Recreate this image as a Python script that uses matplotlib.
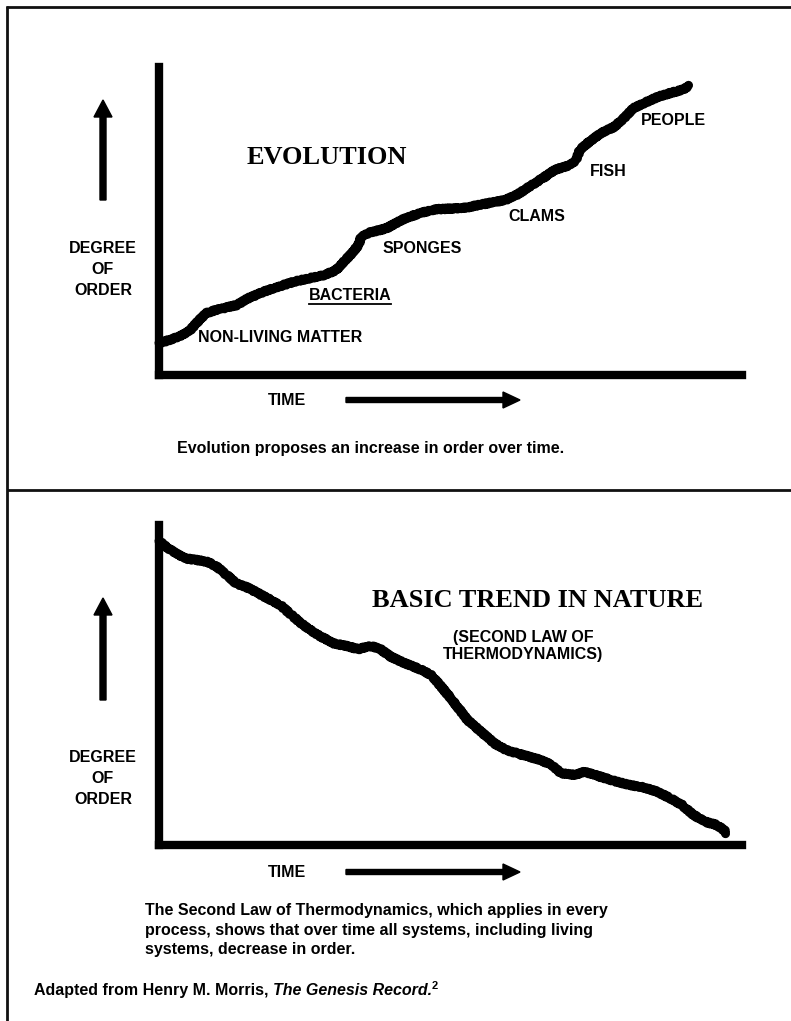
import numpy as np
import matplotlib
matplotlib.use('Agg')
import matplotlib.pyplot as plt

W, H = 791, 1021

# Rising "evolution" curve: time (0-100) vs degree of order (0-100)
evo_time = [0.0, 0.8, 3.4, 5.1, 6.4, 8.0, 9.7, 13.3, 15.3, 17.9, 20.5, 23.2, 25.8,
            28.4, 30.4, 31.7, 33.1, 34.2, 34.7, 36.0, 39.0, 41.6, 44.9, 47.5, 50.8,
            52.8, 55.4, 59.4, 61.3, 64.0, 66.6, 67.9, 70.5, 71.5, 72.2, 73.8, 75.8,
            78.1, 79.7, 81.4, 83.7, 85.7, 88.0, 89.6, 90.9]
evo_order = [10.4, 10.8, 12.4, 14.1, 16.8, 20.0, 21.1, 22.7, 24.9, 27.0, 28.7, 30.3, 31.4,
             32.5, 34.1, 36.8, 39.5, 42.2, 44.9, 46.2, 47.6, 50.3, 52.7, 53.8, 54.1,
             54.4, 55.4, 56.8, 58.4, 61.7, 64.9, 66.6, 68.2, 69.8, 73.1, 75.7, 78.5,
             80.6, 83.3, 86.6, 88.7, 90.4, 91.7, 92.5, 93.8]
stages = ['NON-LIVING MATTER', 'BACTERIA', 'SPONGES', 'CLAMS', 'FISH', 'PEOPLE']

# Falling "second law" curve
decay_time = [0.0, 0.8, 2.4, 4.4, 6.3, 8.3, 9.9, 11.6, 13.2, 15.5, 18.1, 20.8, 22.7,
              24.7, 27.3, 30.0, 32.6, 34.2, 36.2, 37.8, 39.8, 42.4, 45.1, 46.7, 48.4,
              50.3, 51.6, 52.9, 54.9, 57.5, 59.5, 62.5, 65.4, 67.4, 69.0, 71.3, 73.0,
              75.3, 77.9, 80.5, 83.1, 85.4, 87.7, 89.7, 91.7, 93.6, 95.6, 96.9, 97.3]
decay_order = [95.0, 93.8, 91.7, 89.6, 89.1, 88.5, 87.0, 84.4, 81.8, 80.2, 77.6, 75.0, 71.9,
               68.8, 65.6, 63.0, 62.0, 61.2, 62.2, 61.4, 58.8, 56.6, 54.7, 53.1, 49.5,
               45.3, 42.2, 39.1, 35.9, 31.8, 29.7, 28.1, 26.6, 25.0, 22.4, 21.9, 22.9,
               21.6, 20.1, 18.8, 18.0, 16.7, 14.6, 12.5, 9.4, 7.3, 6.3, 4.7, 3.7]

SANS = 'Liberation Sans'
SERIF = 'Liberation Serif'

fig = plt.figure(figsize=(W / 100, H / 100), dpi=100)
fig.patch.set_facecolor('white')

# full-figure axes in pixel units for frame, arrows and captions
bg = fig.add_axes([0, 0, 1, 1])
bg.set_xlim(0, W)
bg.set_ylim(H, 0)
bg.axis('off')


def chart_axes(left, top, right, bottom):
    ax = fig.add_axes([left / W, 1 - bottom / H, (right - left) / W, (bottom - top) / H])
    ax.set_xlim(0, 100)
    ax.set_ylim(0, 100)
    ax.set_xticks([])
    ax.set_yticks([])
    ax.patch.set_alpha(0)
    for side in ['top', 'right']:
        ax.spines[side].set_visible(False)
    for side in ['left', 'bottom']:
        ax.spines[side].set_linewidth(6)
        ax.spines[side].set_color('black')
        ax.spines[side].set_capstyle('projecting')
    return ax


def wiggly(ax, x, y):
    ln, = ax.plot(x, y, color='black', lw=6.5, solid_capstyle='round',
                  solid_joinstyle='round', clip_on=False)
    ln.set_sketch_params(scale=0.9, length=4, randomness=2)
    return ln


def side_labels(arrow_tip, arrow_base, text_y, time_y):
    bg.arrow(103, arrow_base, 0, -(arrow_base - arrow_tip - 17), width=6,
             head_width=18, head_length=17, color='black', length_includes_head=False)
    for word, dy in zip(['DEGREE', 'OF', 'ORDER'], [0, 21, 42]):
        bg.text(103, text_y + dy, word, ha='center', va='center',
                family=SANS, weight='bold', fontsize=11.5)
    bg.text(268, time_y, 'TIME', ha='left', va='center', family=SANS,
            weight='bold', fontsize=11.5)
    bg.arrow(346, time_y, 157, 0, width=5, head_width=16, head_length=17,
             color='black', length_includes_head=False)


# outer frame and divider
frame_kw = dict(color='#111111', lw=2, solid_capstyle='butt')
bg.plot([6, W], [7, 7], **frame_kw)
bg.plot([7, 7], [6, H], **frame_kw)
bg.plot([7, W], [490, 490], **frame_kw)

# upper panel: evolution
ax1 = chart_axes(159, 67, 742, 375)
wiggly(ax1, evo_time, evo_order)
ax1.text(15, 70.5, 'EVOLUTION', family=SERIF, weight='bold', fontsize=19,
         ha='left', va='center')
stage_pos = [(6.7, 12.3), (25.7, 25.7), (38.4, 41.2), (59.9, 51.3), (73.9, 66.0), (82.7, 82.6)]
stage_txt = []
for name, (tx, ty) in zip(stages, stage_pos):
    stage_txt.append(ax1.text(tx, ty, name, family=SANS, weight='bold',
                              fontsize=11.5, ha='left', va='center'))
side_labels(100, 200, 248, 400)
bg.text(177, 448, 'Evolution proposes an increase in order over time.',
        family=SANS, weight='bold', fontsize=11.5, ha='left', va='center')

# lower panel: second law
ax2 = chart_axes(159, 525, 742, 845)
wiggly(ax2, decay_time, decay_order)
bg.text(537, 600, 'BASIC TREND IN NATURE', family=SERIF, weight='bold',
        fontsize=19, ha='center', va='center')
bg.text(523, 646, '(SECOND LAW OF\nTHERMODYNAMICS)', family=SANS, weight='bold',
        fontsize=11.5, ha='center', va='center', linespacing=1.15)
side_labels(598, 700, 757, 872)

caption = ('The Second Law of Thermodynamics, which applies in every\n'
           'process, shows that over time all systems, including living\n'
           'systems, decrease in order.')
bg.text(145, 930, caption, family=SANS, weight='bold', fontsize=11.5,
        ha='left', va='center', linespacing=1.4)

src = bg.text(34, 990, 'Adapted from Henry M. Morris, ', family=SANS, weight='bold',
              fontsize=11.5, ha='left', va='center')
book = bg.annotate('The Genesis Record.', xy=(1, 0.5), xycoords=src, ha='left',
                   va='center', family=SANS, weight='bold', style='italic', fontsize=11.5)
bg.annotate('2', xy=(1, 0.45), xycoords=book, ha='left', va='bottom',
            family=SANS, weight='bold', fontsize=8)

# underline under BACTERIA
fig.canvas.draw()
bb = stage_txt[1].get_window_extent()
(x0, y0), (x1, _) = bg.transData.inverted().transform([[bb.x0, bb.y0], [bb.x1, bb.y0]])
bg.plot([x0, x1], [y0 + 1, y0 + 1], color='black', lw=1.3)

fig.savefig('out.png', dpi=100)
